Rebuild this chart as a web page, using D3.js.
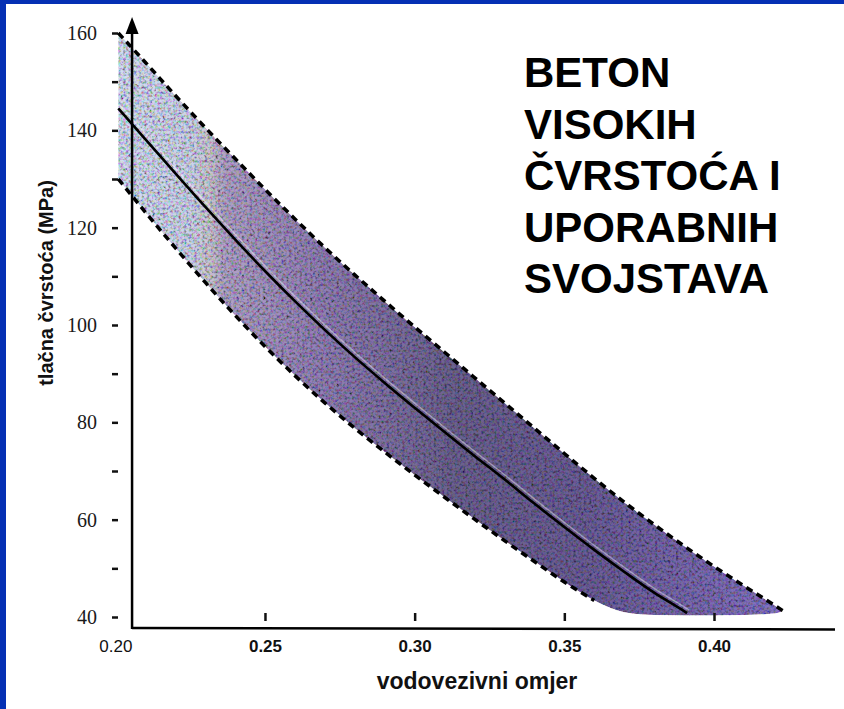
<!DOCTYPE html>
<html><head><meta charset="utf-8">
<script src="https://cdn.jsdelivr.net/npm/d3@7/dist/d3.min.js"></script>
<style>
html,body{margin:0;padding:0;background:#fff;}
svg{display:block;}
</style></head>
<body>
<svg id="c" width="844" height="709"></svg>
<script>
// ---- data ----
const bandX  = [0.201,0.21,0.22,0.23,0.24,0.25,0.26,0.27,0.28,0.29,0.30,0.31,0.32,0.33,0.34,0.35,0.36,0.37,0.38,0.39,0.40,0.41,0.42,0.423];
const upperY = [160,154,147.2,140.6,134.2,127.9,121.8,115.9,110.3,104.9,99.6,94.4,89.2,84,78.8,73.6,68.5,63.6,59,54.6,50.4,46.4,42.5,41.3];
const lowerY = [130,123.2,115.9,108.8,102,95.6,89.6,84,78.8,73.9,69.2,64.6,60.1,55.7,51.4,47.2,43.4,41,40.4,40.3,40.3,40.4,40.7,41.2];
const centerX = [0.201,0.21,0.22,0.23,0.24,0.25,0.26,0.27,0.28,0.29,0.30,0.31,0.32,0.33,0.34,0.35,0.36,0.37,0.38,0.39,0.391];
const centerY = [144.5,138.2,131.2,124.3,117.6,111.1,104.9,99,93.4,88.1,83,78,73.1,68.3,63.3,58.5,53.8,49.3,45,41.2,40.8];
const xTickValues = [0.20,0.25,0.30,0.35,0.40];
const yTickValues = [40,50,60,70,80,90,100,110,120,130,140,150,160];
const yLabelValues = [40,60,80,100,120,140,160];
const titleLines = ["BETON","VISOKIH","ČVRSTOĆA I","UPORABNIH","SVOJSTAVA"];
const xTitle = "vodovezivni omjer";
const yTitle = "tlačna čvrstoća (MPa)";
const lowerDashEnd = 0.365;
const yAxisAt = 0.2056;

// ---- layout ----
const svg = d3.select("#c");
const x = d3.scaleLinear().domain([0.20,0.40]).range([115.3,714]);
const y = d3.scaleLinear().domain([40,160]).range([617,33]);

// blue frame
svg.append("rect").attr("x",0).attr("y",0).attr("width",844).attr("height",4).attr("fill","#0530b4");
svg.append("rect").attr("x",0).attr("y",0).attr("width",6).attr("height",709).attr("fill","#0530b4");

const defs = svg.append("defs");
const grad = defs.append("linearGradient").attr("id","bandGrad")
  .attr("gradientUnits","userSpaceOnUse").attr("x1",118).attr("y1",0).attr("x2",790).attr("y2",0);
[[0,"#d4dcf2"],[0.11,"#ccd2ea"],[0.135,"#ccc8d4"],[0.16,"#b0a2c8"],[0.3,"#9280b6"],[0.5,"#6c6290"],[0.7,"#6c5e98"],[1,"#8674c4"]]
  .forEach(([o,c])=>grad.append("stop").attr("offset",o).attr("stop-color",c));

const f = defs.append("filter").attr("id","grain").attr("x",0).attr("y",0).attr("width",1).attr("height",1);
f.append("feTurbulence").attr("type","fractalNoise").attr("baseFrequency",0.38).attr("numOctaves",2).attr("seed",11).attr("result","noise");
f.append("feColorMatrix").attr("in","noise").attr("type","matrix")
  .attr("values","1.9 0.4 0.4 0 -0.55  0.4 1.9 0.4 0 -0.55  0.4 0.4 1.9 0 -0.55  0 0 0 0 1").attr("result","gray");
f.append("feBlend").attr("in","SourceGraphic").attr("in2","gray").attr("mode","multiply").attr("result","blend");
f.append("feComposite").attr("in","blend").attr("in2","SourceGraphic").attr("operator","in");

// band
const bandData = bandX.map((d,i)=>({x:d,u:upperY[i],l:lowerY[i]}));
const area = d3.area().x(d=>x(d.x)).y0(d=>y(d.l)).y1(d=>y(d.u)).curve(d3.curveMonotoneX);
svg.append("path").datum(bandData).attr("d",area).attr("fill","url(#bandGrad)").attr("filter","url(#grain)");

// dashed bounds
const lineU = d3.line().x(d=>x(d.x)).y(d=>y(d.u)).curve(d3.curveMonotoneX);
const lineL = d3.line().x(d=>x(d.x)).y(d=>y(d.l)).curve(d3.curveMonotoneX);
svg.append("path").datum(bandData).attr("d",lineU).attr("fill","none").attr("stroke","#000")
  .attr("stroke-width",3.5).attr("stroke-dasharray","7,5");
svg.append("path").datum(bandData.filter(d=>d.x<=lowerDashEnd)).attr("d",lineL).attr("fill","none").attr("stroke","#000")
  .attr("stroke-width",3.5).attr("stroke-dasharray","7,5");

// center line
const centerData = centerX.map((d,i)=>({x:d,v:centerY[i]}));
const lineC = d3.line().x(d=>x(d.x)).y(d=>y(d.v)).curve(d3.curveMonotoneX);
svg.append("path").datum(centerData).attr("d",lineC).attr("fill","none").attr("stroke","#fff")
  .attr("stroke-opacity",0.4).attr("stroke-width",1.5).attr("transform","translate(2,-3)");
svg.append("path").datum(centerData).attr("d",lineC).attr("fill","none").attr("stroke","#000").attr("stroke-width",2.6);

// y axis ticks + labels
const yAx = d3.axisLeft(y).tickValues(yTickValues).tickSize(6).tickPadding(15)
  .tickFormat(d=>yLabelValues.includes(d)?d:"");
const gy = svg.append("g").attr("transform","translate(118,0)").call(yAx);
gy.select(".domain").remove();
gy.selectAll(".tick line").attr("stroke","#111").attr("stroke-width",2.5);
gy.selectAll(".tick text").attr("font-family","'Liberation Serif','Times New Roman',serif")
  .attr("font-size",20).attr("fill","#1a1a1a");

// x axis ticks + labels
const xAx = d3.axisBottom(x).tickValues(xTickValues).tickSize(8).tickPadding(19).tickFormat(d3.format(".2f"));
const gx = svg.append("g").attr("transform","translate(0,613)").call(xAx);
gx.select(".domain").remove();
gx.selectAll(".tick line").attr("stroke","#111").attr("stroke-width",2.5).attr("opacity",d=>d===0.20?0:1);
gx.selectAll(".tick text").attr("font-family","'Liberation Sans',Arial,sans-serif")
  .attr("font-size",17).attr("font-weight",d=>d===0.20?"normal":"bold").attr("fill","#111");

// axis lines
const ax0 = x(yAxisAt);
svg.append("line").attr("x1",ax0).attr("x2",835).attr("y1",628).attr("y2",629.5).attr("stroke","#000").attr("stroke-width",2.5);
svg.append("line").attr("x1",ax0).attr("x2",ax0).attr("y1",629).attr("y2",28).attr("stroke","#000").attr("stroke-width",2.5);
svg.append("path").attr("d",`M${ax0},17 L${ax0-6.5},34 L${ax0+6.5},34 Z`).attr("fill","#000");

// titles
svg.append("text").attr("x",477).attr("y",689).attr("text-anchor","middle")
  .attr("font-family","'Liberation Sans',Arial,sans-serif").attr("font-weight","bold").attr("font-size",23)
  .attr("fill","#111").text(xTitle);
svg.append("text").attr("transform","translate(53,283) rotate(-90)").attr("text-anchor","middle")
  .attr("font-family","'Liberation Sans',Arial,sans-serif").attr("font-weight","bold").attr("font-size",20)
  .attr("fill","#111").text(yTitle);

svg.append("g").selectAll("text").data(titleLines).join("text")
  .attr("x",524).attr("y",(d,i)=>87+i*51.5)
  .attr("font-family","'Liberation Sans',Arial,sans-serif").attr("font-weight","bold").attr("font-size",42)
  .attr("fill","#000").text(d=>d);
</script>
</body></html>
